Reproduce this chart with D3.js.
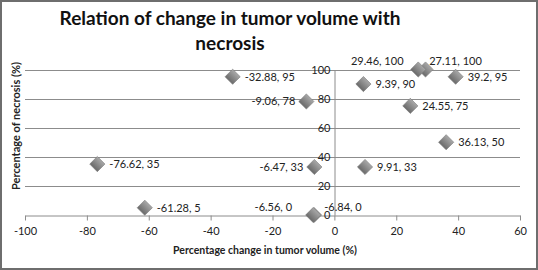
<!DOCTYPE html>
<html>
<head>
<meta charset="utf-8">
<script src="https://cdn.jsdelivr.net/npm/d3@7"></script>
<style>
  body { margin: 0; background: #fff; }
  text { font-family: Lato, "Open Sans", sans-serif; }
</style>
</head>
<body>
<div id="chart"></div>
<script>
let w = 538;
let h = 270;

// data
let changeValues   = [-32.88, -9.06, -76.62, -6.47, -61.28, -6.56, -6.84, 29.46, 27.11, 39.2, 9.39, 24.55, 36.13, 9.91];
let necrosisValues = [95, 78, 35, 33, 5, 0, 0, 100, 100, 95, 90, 75, 50, 33];
// where the data label sits relative to its point
let labelSide = ["r", "l", "r", "l", "r", "tl", "tr", "tl", "tr", "r", "r", "r", "r", "r"];
let xTicks = [-100, -80, -60, -40, -20, 0, 20, 40, 60];
let yTicks = [0, 20, 40, 60, 80, 100];

let points = changeValues.map((v, i) => ({x: v, y: necrosisValues[i], side: labelSide[i]}));

let viz = d3.select("#chart")
  .append("svg")
  .attr("width", w)
  .attr("height", h);

// frame
viz.append("rect")
  .attr("x", 1).attr("y", 1)
  .attr("width", w - 2).attr("height", h - 2)
  .attr("fill", "#fff")
  .attr("stroke", "#6e6e6e")
  .attr("stroke-width", 2);

let xScale = d3.scaleLinear().domain([-100, 60]).range([25, 520]);
let yScale = d3.scaleLinear().domain([0, 100]).range([215, 69.5]);

// gradient for the diamonds
let grad = viz.append("defs").append("linearGradient")
  .attr("id", "dia").attr("x1", 0).attr("y1", 0).attr("x2", 0).attr("y2", 1);
grad.append("stop").attr("offset", "0%").attr("stop-color", "#a8a8a8");
grad.append("stop").attr("offset", "100%").attr("stop-color", "#6a6a6a");

// gridlines
viz.selectAll(".grid").data(yTicks.filter(d => d > 0)).enter()
  .append("line")
  .attr("class", "grid")
  .attr("x1", xScale(-100)).attr("x2", xScale(60))
  .attr("y1", d => Math.round(yScale(d)) + 0.5)
  .attr("y2", d => Math.round(yScale(d)) + 0.5)
  .attr("stroke", "#8c8c8c");

// x axis along y = 0
let xAxis = d3.axisBottom(xScale).tickValues(xTicks).tickSize(5).tickSizeOuter(0)
  .tickFormat(d => String(d));
let xAxisGroup = viz.append("g")
  .attr("transform", "translate(0," + (Math.round(yScale(0)) + 0.5) + ")")
  .call(xAxis);
xAxisGroup.select(".domain").attr("stroke", "#8c8c8c");
xAxisGroup.selectAll(".tick line").attr("stroke", "#8c8c8c");
xAxisGroup.selectAll(".tick text")
  .attr("y", 12)
  .attr("fill", "#222")
  .style("font-size", "11px");

// y axis crossing at x = 0
let yAxis = d3.axisLeft(yScale).tickValues(yTicks).tickSize(0);
let yAxisGroup = viz.append("g")
  .attr("transform", "translate(" + (Math.round(xScale(0)) + 0.5) + ",0)")
  .call(yAxis);
yAxisGroup.select(".domain").attr("stroke", "#8c8c8c");
yAxisGroup.selectAll(".tick text")
  .attr("x", -4)
  .attr("fill", "#222")
  .style("font-size", "11px");

// points
viz.selectAll(".datapoint").data(points).enter()
  .append("path")
  .attr("class", "datapoint")
  .attr("d", d3.symbol().type(d3.symbolSquare).size(115))
  .attr("transform", d => "translate(" + xScale(d.x) + "," + yScale(d.y) + ") rotate(45)")
  .attr("fill", "url(#dia)")
  .attr("stroke", "#7a7a7a")
  .attr("stroke-width", 0.6);

// data labels
viz.selectAll(".datalabel").data(points).enter()
  .append("text")
  .attr("class", "datalabel")
  .attr("x", function(d){
    let px = xScale(d.x);
    if (d.side == "r") return px + 12;
    if (d.side == "l") return px - 11;
    if (d.side == "tl") return px - 22;
    return px + 11;
  })
  .attr("y", function(d){
    let py = yScale(d.y);
    if (d.side == "tl" || d.side == "tr") return py - 8;
    return py;
  })
  .attr("dy", "0.35em")
  .attr("text-anchor", d => (d.side == "l" || d.side == "tl") ? "end" : "start")
  .attr("fill", "#222")
  .style("font-size", "11px")
  .text(d => d.x + ", " + d.y);

// title
viz.append("text")
  .attr("x", 230).attr("y", 25)
  .attr("text-anchor", "middle")
  .style("font-size", "19px").style("font-weight", "bold")
  .attr("fill", "#111")
  .text("Relation of change in tumor volume with");
viz.append("text")
  .attr("x", 230).attr("y", 50)
  .attr("text-anchor", "middle")
  .style("font-size", "19px").style("font-weight", "bold")
  .attr("fill", "#111")
  .text("necrosis");

// axis titles
viz.append("text")
  .attr("x", 265).attr("y", 254)
  .attr("text-anchor", "middle")
  .style("font-size", "10.5px").style("font-weight", "bold")
  .attr("fill", "#222")
  .text("Percentage change  in tumor volume (%)");
viz.append("text")
  .attr("transform", "translate(20,126) rotate(-90)")
  .attr("text-anchor", "middle")
  .style("font-size", "11px").style("font-weight", "bold")
  .attr("fill", "#222")
  .text("Percentage of necrosis (%)");
</script>
</body>
</html>
